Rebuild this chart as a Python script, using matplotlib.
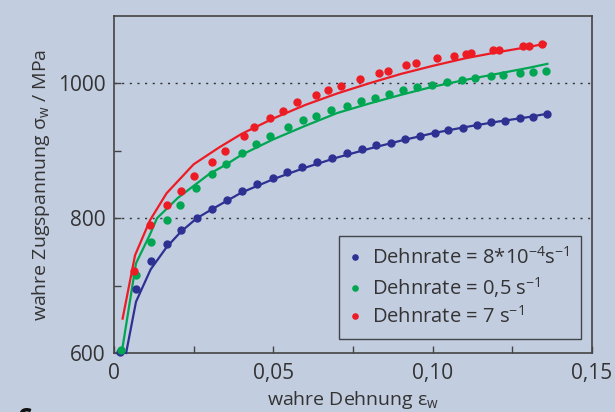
import numpy as np
import matplotlib
matplotlib.use("Agg")
import matplotlib.pyplot as plt

# measured points (wahre Dehnung, wahre Zugspannung in MPa)
blue_x = [0.0020, 0.0069, 0.0115, 0.0165, 0.0211, 0.0260, 0.0309, 0.0354, 0.0403, 0.0450,
          0.0498, 0.0544, 0.0591, 0.0638, 0.0685, 0.0730, 0.0778, 0.0821, 0.0868, 0.0914,
          0.0959, 0.1006, 0.1049, 0.1096, 0.1139, 0.1183, 0.1227, 0.1273, 0.1315, 0.1358]
blue_y = [602, 695, 736, 762, 783, 800, 814, 827, 840, 850,
          859, 868, 876, 883, 890, 896, 902, 908, 912, 918,
          922, 927, 931, 934, 938, 942, 944, 948, 950, 954]

green_x = [0.0021, 0.0069, 0.0115, 0.0165, 0.0207, 0.0257, 0.0309, 0.0350, 0.0403, 0.0445,
           0.0490, 0.0545, 0.0593, 0.0633, 0.0682, 0.0730, 0.0776, 0.0819, 0.0862, 0.0906,
           0.0952, 0.0998, 0.1046, 0.1093, 0.1132, 0.1182, 0.1221, 0.1274, 0.1314, 0.1357]
green_y = [604, 716, 764, 797, 820, 845, 866, 881, 897, 910,
           922, 935, 945, 952, 960, 967, 974, 979, 984, 990,
           994, 998, 1002, 1005, 1008, 1011, 1013, 1016, 1017, 1018]

red_x = [0.0063, 0.0113, 0.0165, 0.0209, 0.0252, 0.0309, 0.0348, 0.0407, 0.0439, 0.0490,
         0.0531, 0.0575, 0.0633, 0.0672, 0.0713, 0.0772, 0.0832, 0.0859, 0.0916, 0.0947,
         0.1015, 0.1067, 0.1104, 0.1120, 0.1190, 0.1208, 0.1283, 0.1303, 0.1344]
red_y = [722, 790, 819, 841, 863, 884, 900, 922, 935, 948,
         959, 972, 983, 990, 996, 1007, 1016, 1019, 1027, 1031,
         1037, 1041, 1044, 1045, 1050, 1050, 1055, 1055, 1058]

# fitted curves
blue_fit_x = [0.0038, 0.0069, 0.0115, 0.0165, 0.021, 0.026, 0.031, 0.04, 0.05, 0.06,
              0.07, 0.08, 0.09, 0.10, 0.11, 0.12, 0.13, 0.136]
blue_fit_y = [600, 676, 724, 757, 780, 800, 814, 838, 858, 875,
              890, 903, 915, 926, 935, 943, 950, 955]

green_fit_x = [0.0024, 0.0069, 0.0113, 0.0135, 0.02, 0.03, 0.035, 0.04, 0.05, 0.06,
               0.07, 0.08, 0.09, 0.10, 0.11, 0.12, 0.13, 0.136]
green_fit_y = [600, 733, 776, 800, 830, 866, 879, 894, 917, 937,
               956, 970, 983, 995, 1005, 1014, 1023, 1029]

red_fit_x = [0.0027, 0.0066, 0.0113, 0.0165, 0.025, 0.033, 0.04, 0.05, 0.06, 0.07,
             0.08, 0.09, 0.10, 0.11, 0.12, 0.13, 0.1355]
red_fit_y = [651, 745, 797, 837, 880, 905, 925, 948, 968, 985,
             1000, 1014, 1026, 1037, 1046, 1054, 1059]

labels = [r"Dehnrate = 8*10$^{\mathregular{-4}}$s$^{\mathregular{-1}}$",
          r"Dehnrate = 0,5 s$^{\mathregular{-1}}$",
          r"Dehnrate = 7 s$^{\mathregular{-1}}$"]

c_blue = "#2e3192"
c_green = "#00a651"
c_red = "#ed1c24"
bg = "#c2cde0"
txt = "#333333"

plt.rcParams['font.family'] = ['Open Sans', 'DejaVu Sans']
plt.rcParams['mathtext.fontset'] = 'custom'
plt.rcParams['mathtext.rm'] = 'Open Sans'

fig = plt.figure(figsize=(6.15, 4.12), dpi=100, facecolor=bg)
ax = fig.add_axes([114/615, 1-353/412, 478/615, 337/412], facecolor=bg)

for fx, fy, c in [(blue_fit_x, blue_fit_y, c_blue), (green_fit_x, green_fit_y, c_green),
                  (red_fit_x, red_fit_y, c_red)]:
    ax.plot(fx, fy, color=c, lw=1.6, zorder=3, clip_on=False)

ax.plot(blue_x, blue_y, 'o', color=c_blue, ms=5, label=labels[0], zorder=4, clip_on=False)
ax.plot(green_x, green_y, 'o', color=c_green, ms=5, label=labels[1], zorder=4, clip_on=False)
ax.plot(red_x, red_y, 'o', color=c_red, ms=5, label=labels[2], zorder=4, clip_on=False)

ax.set_xlim(0, 0.15)
ax.set_ylim(600, 1100)
ax.set_xticks([0, 0.05, 0.10, 0.15])
ax.set_xticklabels(["0", "0,05", "0,10", "0,15"])
ax.set_xticks([0.025, 0.075, 0.125], minor=True)
ax.set_yticks([600, 800, 1000])
ax.set_yticks([700, 900], minor=True)
ax.tick_params(which='both', direction='in', length=5, width=1, color="#444444",
               labelsize=15, labelcolor=txt, top=False, right=False)
ax.tick_params(axis='x', pad=7)
ax.tick_params(axis='y', pad=6)

for yv in [800, 1000]:
    ax.axhline(yv, color="#333333", lw=1, ls=(0, (1.5, 4)), zorder=1)

for s in ax.spines.values():
    s.set_color("#444444")
    s.set_linewidth(1.2)

ax.set_xlabel(r"wahre Dehnung ε$_{\mathregular{w}}$", fontsize=14, color=txt, labelpad=4)
ax.set_ylabel(r"wahre Zugspannung σ$_{\mathregular{w}}$ / MPa", fontsize=14, color=txt, labelpad=4)

leg = ax.legend(loc='lower right', bbox_to_anchor=(1 - 11/478, 14/337), fontsize=14.5,
                frameon=True, fancybox=False, markerscale=0.75, handlelength=0.5,
                handletextpad=0.6, labelspacing=0.3, borderpad=0.55, borderaxespad=0,
                labelcolor=txt)
leg.get_frame().set_facecolor(bg)
leg.get_frame().set_edgecolor("#222222")
leg.get_frame().set_linewidth(1.0)

# partly visible letter at the bottom edge
fig.text(25/615, -12/412, "c", fontsize=20, fontweight='bold', color="#111111",
         ha='center', va='baseline')

fig.savefig("out.png", dpi=100, facecolor=bg)
